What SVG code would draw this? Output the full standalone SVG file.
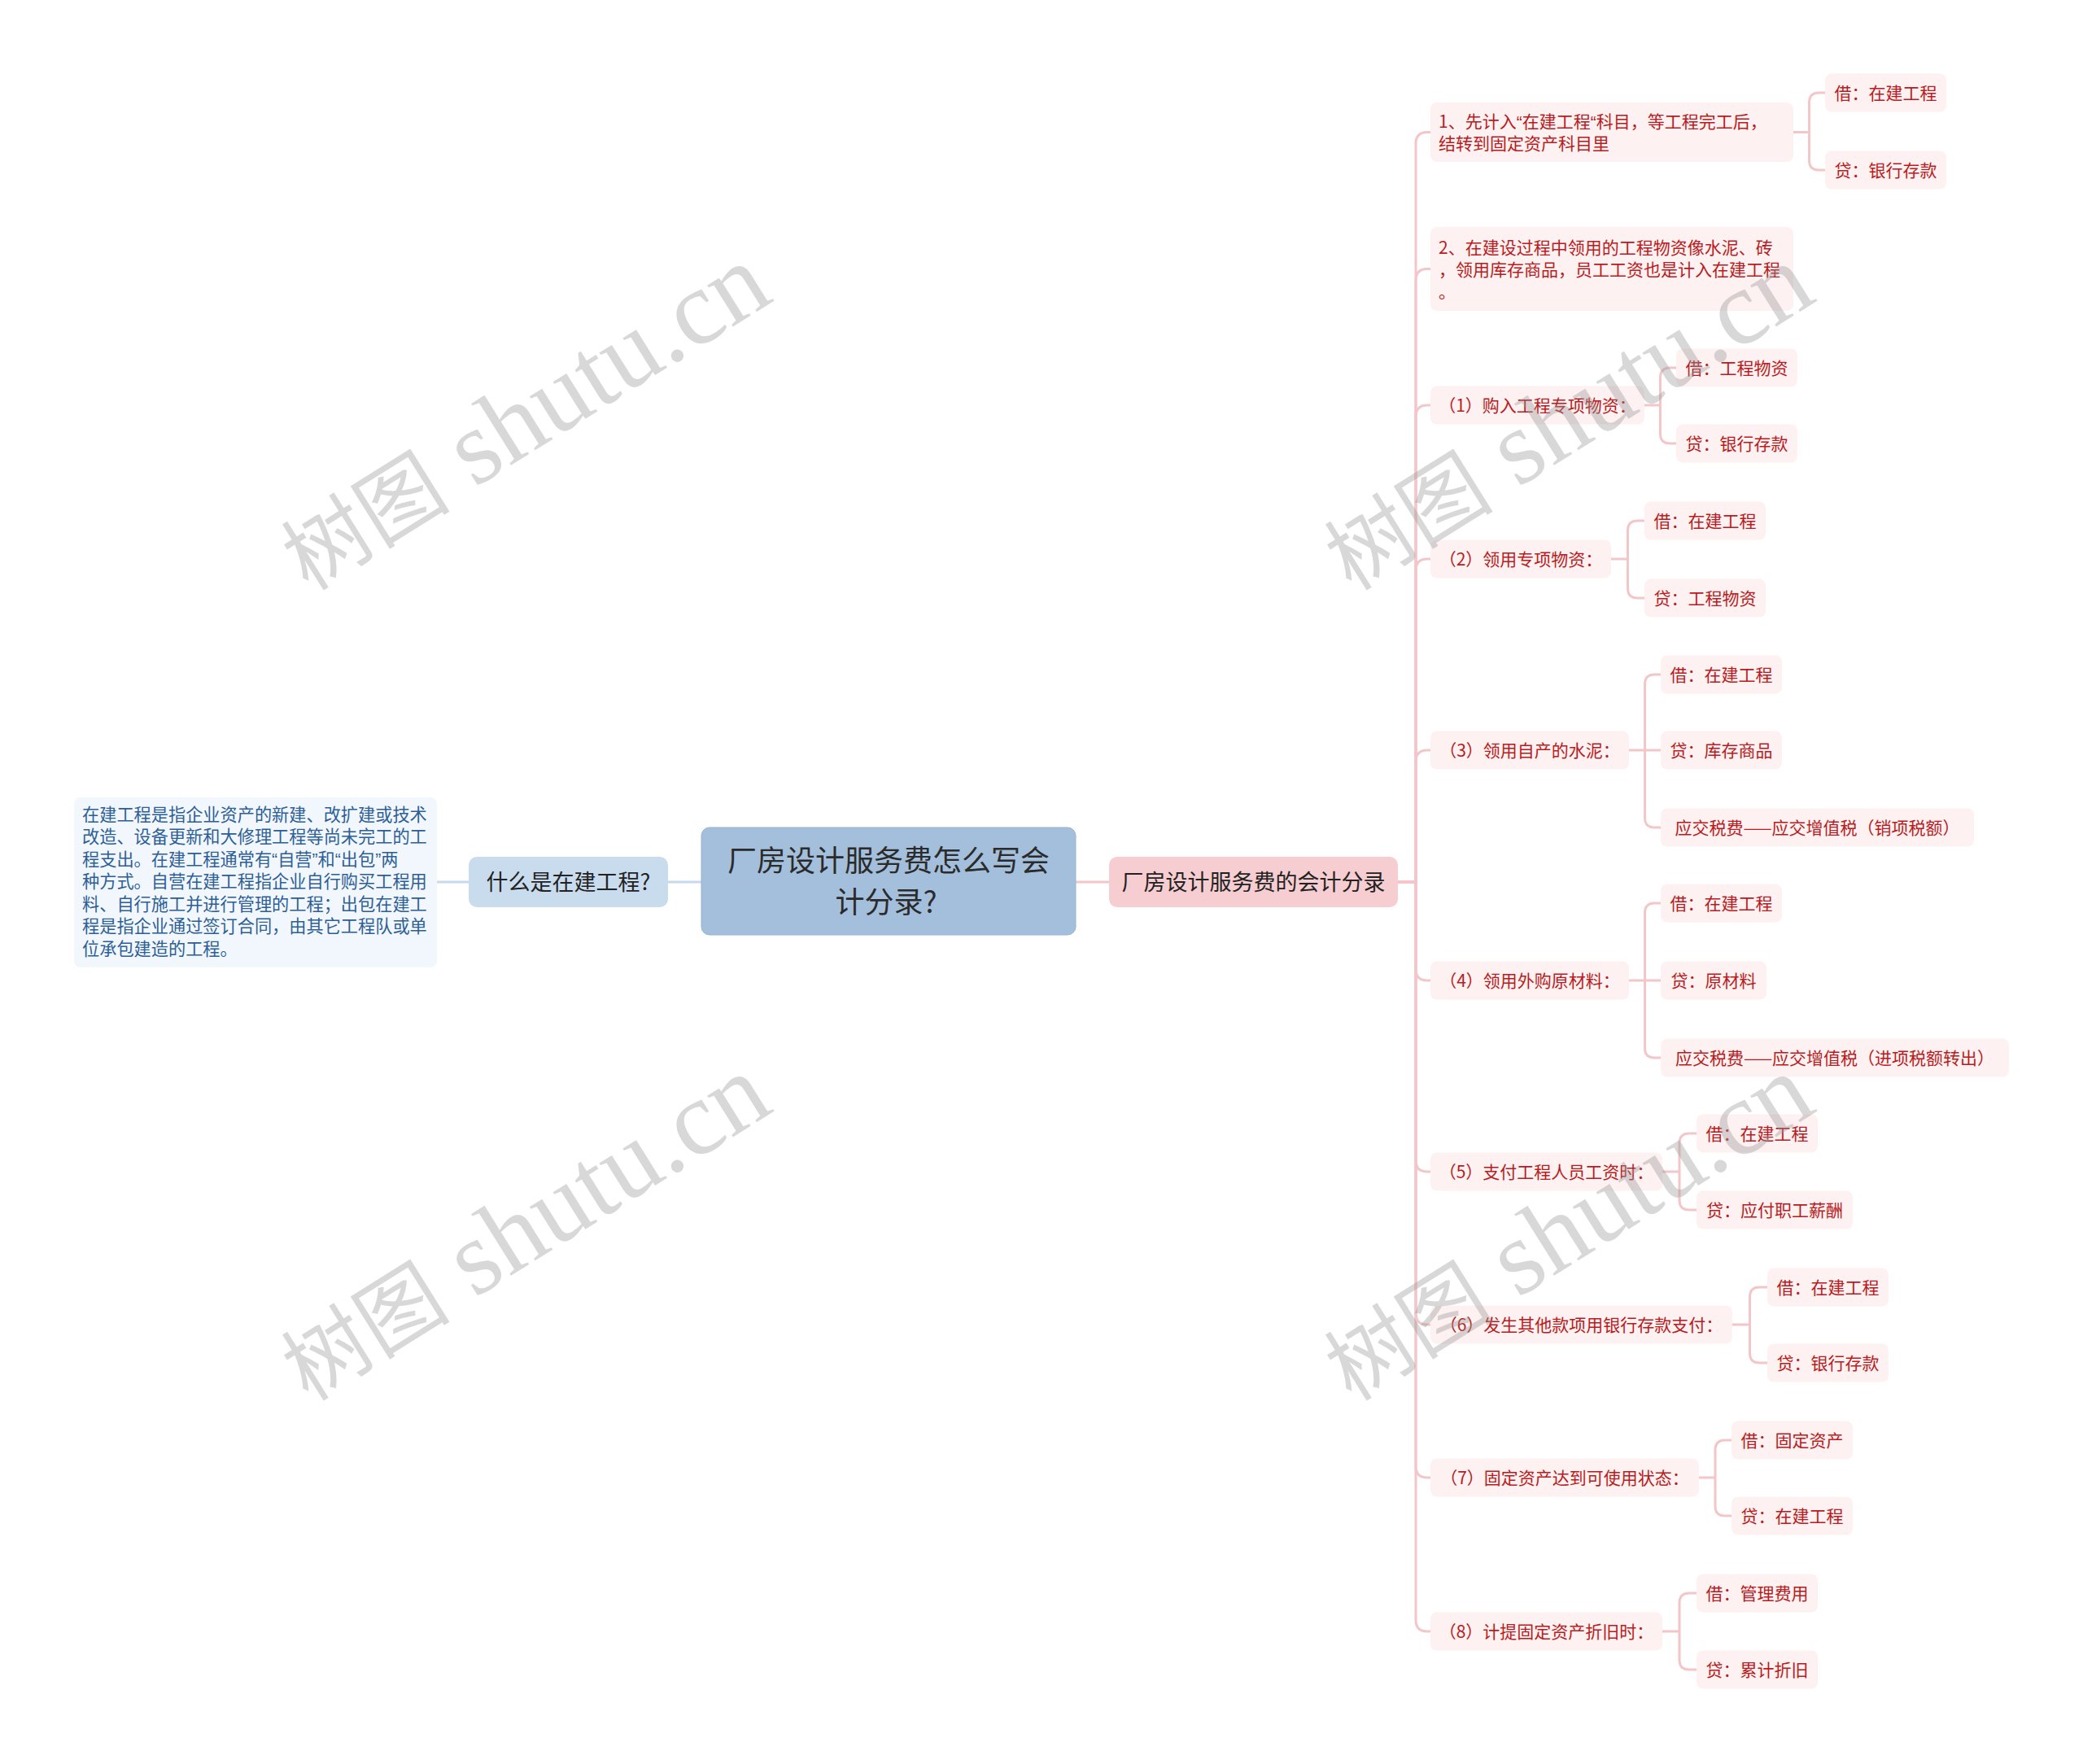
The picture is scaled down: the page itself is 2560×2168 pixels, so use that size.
<svg xmlns="http://www.w3.org/2000/svg" width="2560" height="2168" viewBox="0 0 2560 2168">
<style>
text{font-family:"Noto Sans CJK SC","Noto Sans",sans-serif;}
.q{font-family:"Liberation Sans","Noto Sans CJK SC",sans-serif;}
.cr{fill:none;stroke:#f3c6c9;stroke-width:3;}
.cl{fill:none;stroke:#c7d9ea;stroke-width:3;}
.l2 rect,.lf rect{fill:#fdf1f1;}
.l2 text,.lf text{fill:#b81c22;font-size:21px;}
.c{text-anchor:middle;}
.wm{font-family:"Liberation Serif","Noto Sans CJK SC",serif;font-size:130px;fill:#999;fill-opacity:0.38;text-anchor:middle;}
.wm .cj{font-family:"Noto Sans CJK SC",serif;font-size:104px;}
</style>
<rect width="2560" height="2168" fill="#ffffff"/>

<g id="connectors">
<path class="cl" d="M862 1084H821M576 1084H537"/>
<path class="cr" d="M1322 1084H1363"/>
<path class="cr" d="M1718 1084H1740V176.5Q1740 162.5 1754 162.5H1758"/>
<path class="cr" d="M1718 1084H1740V344.5Q1740 330.5 1754 330.5H1758"/>
<path class="cr" d="M1718 1084H1740V512Q1740 498 1754 498H1758"/>
<path class="cr" d="M1718 1084H1740V701Q1740 687 1754 687H1758"/>
<path class="cr" d="M1718 1084H1740V936Q1740 922 1754 922H1758"/>
<path class="cr" d="M1718 1084H1740V1191Q1740 1205 1754 1205H1758"/>
<path class="cr" d="M1718 1084H1740V1426Q1740 1440 1754 1440H1758"/>
<path class="cr" d="M1718 1084H1740V1614Q1740 1628 1754 1628H1758"/>
<path class="cr" d="M1718 1084H1740V1802Q1740 1816 1754 1816H1758"/>
<path class="cr" d="M1718 1084H1740V1991Q1740 2005 1754 2005H1758"/>

<path class="cr" d="M2204 162.5H2223.5V126Q2223.5 114 2235.5 114H2243M2204 162.5H2223.5V197Q2223.5 209 2235.5 209H2243"/>
<path class="cr" d="M2021 498H2040.5V464Q2040.5 452 2052.5 452H2060M2021 498H2040.5V533Q2040.5 545 2052.5 545H2060"/>
<path class="cr" d="M1980 687H2000.5V652Q2000.5 640 2012.5 640H2021M1980 687H2000.5V723Q2000.5 735 2012.5 735H2021"/>
<path class="cr" d="M2002 922H2021.5V841Q2021.5 829 2033.5 829H2041M2002 922H2041M2002 922H2021.5V1005Q2021.5 1017 2033.5 1017H2041"/>
<path class="cr" d="M2002 1205H2021.5V1122Q2021.5 1110 2033.5 1110H2041M2002 1205H2041M2002 1205H2021.5V1288Q2021.5 1300 2033.5 1300H2041"/>
<path class="cr" d="M2043 1440H2064V1405Q2064 1393 2076 1393H2085M2043 1440H2064V1475Q2064 1487 2076 1487H2085"/>
<path class="cr" d="M2129 1628H2150.5V1594Q2150.5 1582 2162.5 1582H2172M2129 1628H2150.5V1663Q2150.5 1675 2162.5 1675H2172"/>
<path class="cr" d="M2088 1816H2108V1782Q2108 1770 2120 1770H2128M2088 1816H2108V1851Q2108 1863 2120 1863H2128"/>
<path class="cr" d="M2043 2005H2064V1970Q2064 1958 2076 1958H2085M2043 2005H2064V2040Q2064 2052 2076 2052H2085"/>
</g>

<g id="root">
<rect x="862" y="1017" width="460" height="132" rx="10" fill="#a3bfdb" stroke="#97b4d2" stroke-width="1"/>
<text class="c" x="1092" y="1070.5" font-size="36" fill="#2b2b2b">厂房设计服务费怎么写会</text>
<text class="c" x="1089" y="1121.5" font-size="36" fill="#2b2b2b">计分录?</text>
</g>

<g id="what">
<rect x="576" y="1053" width="245" height="62" rx="10" fill="#c9dcee"/>
<text class="c" x="698.5" y="1093.5" font-size="27" fill="#222">什么是在建工程?</text>
</g>

<g id="what-desc">
<rect x="91" y="980" width="446" height="209" rx="8" fill="#f2f7fd"/>
<g font-size="21.2" fill="#2d5f96">
<text x="101" y="1008.5">在建工程是指企业资产的新建、改扩建或技术</text>
<text x="101" y="1036">改造、设备更新和大修理工程等尚未完工的工</text>
<text x="101" y="1063.5">程支出。在建工程通常有<tspan class="q">“</tspan>自营<tspan class="q">”</tspan>和<tspan class="q">“</tspan>出包<tspan class="q">”</tspan>两</text>
<text x="101" y="1091">种方式。自营在建工程指企业自行购买工程用</text>
<text x="101" y="1118.5">料、自行施工并进行管理的工程；出包在建工</text>
<text x="101" y="1146">程是指企业通过签订合同，由其它工程队或单</text>
<text x="101" y="1173.5">位承包建造的工程。</text>
</g>
</g>

<g id="entries">
<rect x="1363" y="1053" width="355" height="62" rx="10" fill="#f6cdd0"/>
<text class="c" x="1540.5" y="1093.5" font-size="27" fill="#222">厂房设计服务费的会计分录</text>
</g>

<g id="n1" class="l2">
<rect x="1758" y="126" width="446" height="73" rx="8"/>
<text x="1768" y="156.5">1、先计入<tspan class="q">“</tspan>在建工程<tspan class="q">“</tspan>科目，等工程完工后，</text>
<text x="1768" y="183.5">结转到固定资产科目里</text>
</g>
<g id="n1a" class="lf"><rect x="2243" y="90.5" width="149" height="47" rx="8"/><text class="c" x="2317.5" y="121.5">借：在建工程</text></g>
<g id="n1b" class="lf"><rect x="2243" y="185.5" width="149" height="47" rx="8"/><text class="c" x="2317.5" y="216.5">贷：银行存款</text></g>

<g id="n2" class="l2">
<rect x="1758" y="279" width="446" height="103" rx="8"/>
<text x="1768" y="311.5">2、在建设过程中领用的工程物资像水泥、砖</text>
<text x="1768" y="338.5">，领用库存商品，员工工资也是计入在建工程</text>
<text x="1768" y="365.5">。</text>
</g>

<g id="s1" class="l2"><rect x="1758" y="474.5" width="263" height="47" rx="8"/><text class="c" x="1889.5" y="505.5">（1）购入工程专项物资：</text></g>
<g id="s1a" class="lf"><rect x="2060" y="428.5" width="149" height="47" rx="8"/><text class="c" x="2134.5" y="459.5">借：工程物资</text></g>
<g id="s1b" class="lf"><rect x="2060" y="521.5" width="149" height="47" rx="8"/><text class="c" x="2134.5" y="552.5">贷：银行存款</text></g>

<g id="s2" class="l2"><rect x="1758" y="663.5" width="222" height="47" rx="8"/><text class="c" x="1869" y="694.5">（2）领用专项物资：</text></g>
<g id="s2a" class="lf"><rect x="2021" y="616.5" width="149" height="47" rx="8"/><text class="c" x="2095.5" y="647.5">借：在建工程</text></g>
<g id="s2b" class="lf"><rect x="2021" y="711.5" width="149" height="47" rx="8"/><text class="c" x="2095.5" y="742.5">贷：工程物资</text></g>

<g id="s3" class="l2"><rect x="1758" y="898.5" width="244" height="47" rx="8"/><text class="c" x="1880" y="929.5">（3）领用自产的水泥：</text></g>
<g id="s3a" class="lf"><rect x="2041" y="805.5" width="149" height="47" rx="8"/><text class="c" x="2115.5" y="836.5">借：在建工程</text></g>
<g id="s3b" class="lf"><rect x="2041" y="898.5" width="149" height="47" rx="8"/><text class="c" x="2115.5" y="929.5">贷：库存商品</text></g>
<g id="s3c" class="lf"><rect x="2041" y="993.5" width="385" height="47" rx="8"/><text class="c" x="2233.5" y="1024.5">应交税费——应交增值税（销项税额）</text></g>

<g id="s4" class="l2"><rect x="1758" y="1181.5" width="244" height="47" rx="8"/><text class="c" x="1880" y="1212.5">（4）领用外购原材料：</text></g>
<g id="s4a" class="lf"><rect x="2041" y="1086.5" width="149" height="47" rx="8"/><text class="c" x="2115.5" y="1117.5">借：在建工程</text></g>
<g id="s4b" class="lf"><rect x="2041" y="1181.5" width="130" height="47" rx="8"/><text class="c" x="2106" y="1212.5">贷：原材料</text></g>
<g id="s4c" class="lf"><rect x="2041" y="1276.5" width="428" height="47" rx="8"/><text class="c" x="2255" y="1307.5">应交税费——应交增值税（进项税额转出）</text></g>

<g id="s5" class="l2"><rect x="1758" y="1416.5" width="285" height="47" rx="8"/><text class="c" x="1900.5" y="1447.5">（5）支付工程人员工资时：</text></g>
<g id="s5a" class="lf"><rect x="2085" y="1369.5" width="149" height="47" rx="8"/><text class="c" x="2159.5" y="1400.5">借：在建工程</text></g>
<g id="s5b" class="lf"><rect x="2085" y="1463.5" width="192" height="47" rx="8"/><text class="c" x="2181" y="1494.5">贷：应付职工薪酬</text></g>

<g id="s6" class="l2"><rect x="1758" y="1604.5" width="371" height="47" rx="8"/><text class="c" x="1943.5" y="1635.5">（6）发生其他款项用银行存款支付：</text></g>
<g id="s6a" class="lf"><rect x="2172" y="1558.5" width="149" height="47" rx="8"/><text class="c" x="2246.5" y="1589.5">借：在建工程</text></g>
<g id="s6b" class="lf"><rect x="2172" y="1651.5" width="149" height="47" rx="8"/><text class="c" x="2246.5" y="1682.5">贷：银行存款</text></g>

<g id="s7" class="l2"><rect x="1758" y="1792.5" width="330" height="47" rx="8"/><text class="c" x="1923" y="1823.5">（7）固定资产达到可使用状态：</text></g>
<g id="s7a" class="lf"><rect x="2128" y="1746.5" width="149" height="47" rx="8"/><text class="c" x="2202.5" y="1777.5">借：固定资产</text></g>
<g id="s7b" class="lf"><rect x="2128" y="1839.5" width="149" height="47" rx="8"/><text class="c" x="2202.5" y="1870.5">贷：在建工程</text></g>

<g id="s8" class="l2"><rect x="1758" y="1981.5" width="285" height="47" rx="8"/><text class="c" x="1900.5" y="2012.5">（8）计提固定资产折旧时：</text></g>
<g id="s8a" class="lf"><rect x="2085" y="1934.5" width="149" height="47" rx="8"/><text class="c" x="2159.5" y="1965.5">借：管理费用</text></g>
<g id="s8b" class="lf"><rect x="2085" y="2028.5" width="149" height="47" rx="8"/><text class="c" x="2159.5" y="2059.5">贷：累计折旧</text></g>

<g id="watermarks">
<text class="wm" transform="translate(645 514) rotate(-32)" y="40"><tspan class="cj">树图</tspan> shutu.cn</text>
<text class="wm" transform="translate(1927 514) rotate(-32)" y="40"><tspan class="cj">树图</tspan> shutu.cn</text>
<text class="wm" transform="translate(645 1510) rotate(-32)" y="40"><tspan class="cj">树图</tspan> shutu.cn</text>
<text class="wm" transform="translate(1927 1510) rotate(-32)" y="40"><tspan class="cj">树图</tspan> shutu.cn</text>
</g>
</svg>
